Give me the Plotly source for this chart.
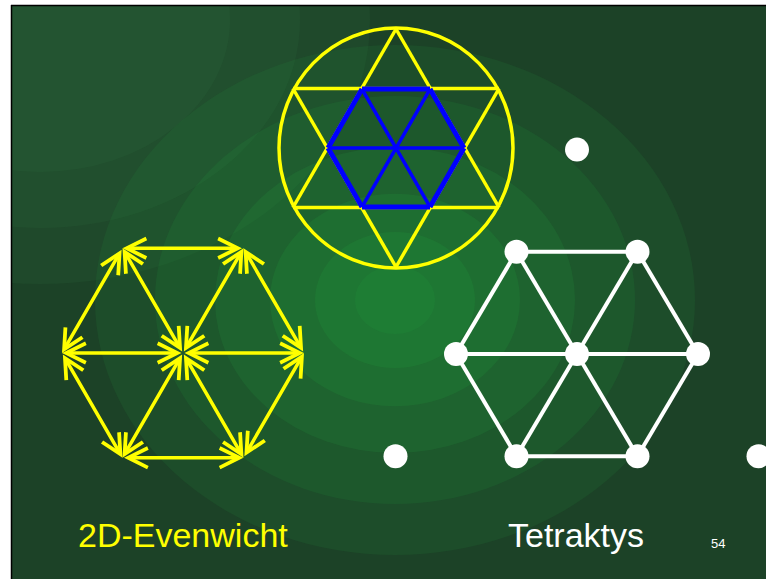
import plotly.graph_objects as go

# ---------------- data (unit geometry) ----------------
# unit hexagon vertices (edge length 1), screen orientation (y down)
hex_vx = [1.0, 0.5, -0.5, -1.0, -0.5, 0.5]
hex_vy = [0.0, -0.866, -0.866, 0.0, 0.866, 0.866]

# star of David: two triangles on a unit circle
tri_up_x = [0.0, 0.866, -0.866]
tri_up_y = [-1.0, 0.5, 0.5]
tri_dn_x = [0.0, 0.866, -0.866]
tri_dn_y = [1.0, -0.5, -0.5]

# extra dots completing the tetraktys (in hex-unit lattice)
extra_x = [0.0, -1.5, 1.5]
extra_y = [-1.732, 0.866, 0.866]

# placement of the three figures
arrow_center = (183, 353)
arrow_scale = (121, 121)
tetra_center = (577, 354)
tetra_scale = (121, 118)
star_center = (396, 148)
star_radius = 119
blue_scale = 68

labels = ["2D-Evenwicht", "Tetraktys"]
page_number = "54"

YELLOW = "#ffff00"
BLUE = "#0000ff"
WHITE = "#ffffff"


def place(xs, ys, center, scale):
    sx, sy = (scale, scale) if not isinstance(scale, tuple) else scale
    return [center[0] + x * sx for x in xs], [center[1] + y * sy for y in ys]


def hex_edges(center, scale):
    vx, vy = place(hex_vx, hex_vy, center, scale)
    edges = []
    for i in range(6):
        j = (i + 1) % 6
        edges.append(((vx[i], vy[i]), (vx[j], vy[j])))
    for i in range(6):
        edges.append(((center[0], center[1]), (vx[i], vy[i])))
    return edges


def seg_trace(edges, color, width):
    xs, ys = [], []
    for (a, b) in edges:
        xs += [a[0], b[0], None]
        ys += [a[1], b[1], None]
    return go.Scatter(x=xs, y=ys, mode="lines", line=dict(color=color, width=width),
                      hoverinfo="skip", showlegend=False)


fig = go.Figure()

# ---------------- background ----------------
shapes = []
shapes.append(dict(type="rect", xref="x", yref="y", x0=12, x1=766, y0=6, y1=579,
                   fillcolor="#1c4227", line=dict(width=0), layer="below"))
# softly lighter upper-left area
for r, op in [(330, 0.10), (260, 0.10), (190, 0.10)]:
    shapes.append(dict(type="circle", xref="x", yref="y", x0=40 - r, x1=40 + r,
                       y0=20 - r * 0.8, y1=20 + r * 0.8, fillcolor="#3a8a50",
                       opacity=op, line=dict(width=0), layer="below"))
glow = [(300, 0.10), (240, 0.12), (180, 0.13), (125, 0.14), (80, 0.14), (40, 0.12)]
for r, op in glow:
    shapes.append(dict(type="circle", xref="x", yref="y", x0=395 - r, x1=395 + r,
                       y0=300 - r * 0.85, y1=300 + r * 0.85, fillcolor="#25b043",
                       opacity=op, line=dict(width=0), layer="below"))
# white page margin and black frame
shapes.append(dict(type="rect", xref="x", yref="y", x0=-5, x1=11, y0=-5, y1=590,
                   fillcolor="white", line=dict(width=0), layer="below"))
shapes.append(dict(type="rect", xref="x", yref="y", x0=-5, x1=780, y0=-5, y1=5,
                   fillcolor="white", line=dict(width=0), layer="below"))
shapes.append(dict(type="line", xref="x", yref="y", x0=11, x1=780, y0=5.5, y1=5.5,
                   line=dict(color="black", width=1.5), layer="below"))
shapes.append(dict(type="line", xref="x", yref="y", x0=11.5, x1=11.5, y0=5, y1=590,
                   line=dict(color="black", width=1.5), layer="below"))

# circle around star
shapes.append(dict(type="circle", xref="x", yref="y",
                   x0=star_center[0] - star_radius + 2, x1=star_center[0] + star_radius - 2,
                   y0=star_center[1] - star_radius - 1, y1=star_center[1] + star_radius + 1,
                   line=dict(color=YELLOW, width=3.5), layer="above"))

# ---------------- star of David ----------------
ux, uy = place(tri_up_x, tri_up_y, star_center, star_radius)
dx, dy = place(tri_dn_x, tri_dn_y, star_center, star_radius)
star_edges = []
for (xs, ys) in [(ux, uy), (dx, dy)]:
    for i in range(3):
        j = (i + 1) % 3
        star_edges.append(((xs[i], ys[i]), (xs[j], ys[j])))
fig.add_trace(seg_trace(star_edges, YELLOW, 3.5))

# blue hexagon inside star
bedges = hex_edges(star_center, blue_scale)
fig.add_trace(seg_trace(bedges[6:], BLUE, 3.5))
fig.add_trace(seg_trace(bedges[:6], BLUE, 5))

# ---------------- tetraktys ----------------
tedges = hex_edges(tetra_center, tetra_scale)
fig.add_trace(seg_trace(tedges, WHITE, 4))
tx, ty = place(hex_vx, hex_vy, tetra_center, tetra_scale)
ex, ey = place(extra_x, extra_y, tetra_center, tetra_scale)
fig.add_trace(go.Scatter(x=tx + [tetra_center[0]] + ex, y=ty + [tetra_center[1]] + ey,
                         mode="markers", marker=dict(color=WHITE, size=24, line=dict(width=0)),
                         hoverinfo="skip", showlegend=False))

# ---------------- double arrows hexagon ----------------
annotations = []
for (a, b) in hex_edges(arrow_center, arrow_scale):
    annotations.append(dict(x=b[0], y=b[1], ax=a[0], ay=a[1], xref="x", yref="y",
                            axref="x", ayref="y", text="", showarrow=True,
                            arrowhead=5, startarrowhead=5, arrowside="end+start",
                            arrowsize=1.1, startarrowsize=1.1, arrowwidth=3.5,
                            arrowcolor=YELLOW, standoff=0, startstandoff=0))

# ---------------- text ----------------
font_family = "Liberation Sans, Arial, sans-serif"
annotations.append(dict(x=183, y=535, xref="x", yref="y", text=labels[0], showarrow=False,
                        font=dict(family=font_family, size=34, color=YELLOW)))
annotations.append(dict(x=576, y=535, xref="x", yref="y", text=labels[1], showarrow=False,
                        font=dict(family=font_family, size=34, color=WHITE)))
annotations.append(dict(x=718, y=543, xref="x", yref="y", text=page_number, showarrow=False,
                        font=dict(family=font_family, size=13, color=WHITE)))

fig.update_layout(
    width=766, height=579, autosize=False,
    margin=dict(l=0, r=0, t=0, b=0, pad=0),
    paper_bgcolor="white", plot_bgcolor="white",
    xaxis=dict(range=[0, 766], visible=False, fixedrange=True),
    yaxis=dict(range=[579, 0], visible=False, fixedrange=True),
    shapes=shapes, annotations=annotations, showlegend=False,
)

fig.write_html("out.html", config={"displayModeBar": False},
               post_script="document.body.style.margin='0px';")
